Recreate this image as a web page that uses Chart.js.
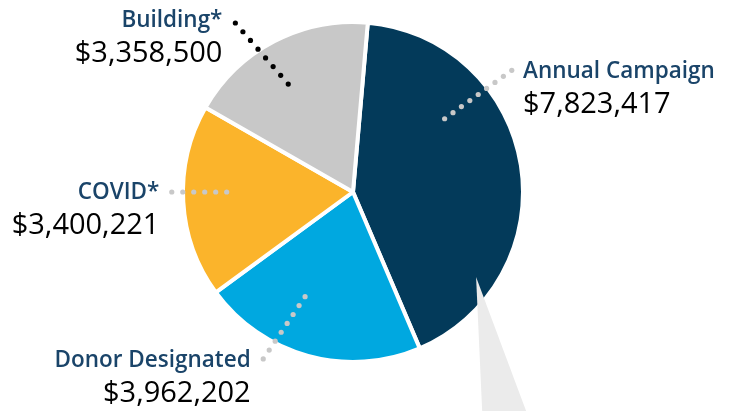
<!DOCTYPE html>
<html>
<head>
<meta charset="utf-8">
<script src="https://cdn.jsdelivr.net/npm/chart.js@4/dist/chart.umd.min.js"></script>
<style>
  html, body { margin: 0; padding: 0; background: #ffffff; }
  #wrap { width: 732px; height: 411px; position: relative; }
</style>
</head>
<body>
<div id="wrap"><canvas id="c" width="732" height="411"></canvas></div>
<script>
// ---- data ----
const categories = ["Annual Campaign", "Donor Designated", "COVID*", "Building*"];
const amounts = [7823417, 3962202, 3400221, 3358500];
const valueLabels = ["$7,823,417", "$3,962,202", "$3,400,221", "$3,358,500"];

// ---- styling / layout (relative to pie centre, in units of radius) ----
const sliceColors = ["#033a5a", "#00a8e0", "#fbb42b", "#c8c8c8"];
const leaderColors = ["#c8c8c8", "#c8c8c8", "#c8c8c8", "#000000"];
const leaderStart = [[0.539, -0.431], [-0.282, 0.616], [-0.743, 0.0], [-0.381, -0.635]];
const leaderEnd = [[0.934, -0.716], [-0.528, 0.982], [-1.066, 0.0], [-0.692, -0.994]];
const leaderDots = [9, 8, 6, 8];
const titleAnchor = [[1.0, -0.672], [-0.602, 1.031], [-1.139, 0.041], [-0.768, -0.972]];
const titleAlign = ["left", "right", "right", "right"];
const wedge = [[0.724, 0.5], [0.765, 1.40], [1.06, 1.40]];

const annotations = {
  id: "annotations",
  afterDatasetsDraw(chart) {
    const ctx = chart.ctx;
    const arc = chart.getDatasetMeta(0).data[0];
    const cx = arc.x, cy = arc.y, r = arc.outerRadius;
    const P = (f) => [cx + f[0] * r, cy + f[1] * r];
    ctx.save();
    // callout wedge
    ctx.fillStyle = "#ebebeb";
    ctx.beginPath();
    wedge.forEach((f, i) => { const p = P(f); i ? ctx.lineTo(p[0], p[1]) : ctx.moveTo(p[0], p[1]); });
    ctx.closePath();
    ctx.fill();
    // leaders + labels
    categories.forEach((name, i) => {
      const a = P(leaderStart[i]), b = P(leaderEnd[i]);
      const n = leaderDots[i];
      ctx.fillStyle = leaderColors[i];
      for (let k = 0; k < n; k++) {
        const t = k / (n - 1);
        ctx.beginPath();
        ctx.arc(a[0] + (b[0] - a[0]) * t, a[1] + (b[1] - a[1]) * t, 2.6, 0, Math.PI * 2);
        ctx.fill();
      }
      const tp = P(titleAnchor[i]);
      ctx.textAlign = titleAlign[i];
      ctx.textBaseline = "alphabetic";
      ctx.fillStyle = "#1a4469";
      ctx.font = "600 22.5px 'Open Sans'";
      ctx.fillText(name, tp[0], tp[1]);
      ctx.fillStyle = "#000000";
      ctx.font = "400 29px 'Open Sans'";
      ctx.fillText(valueLabels[i], tp[0], tp[1] + 35);
    });
    ctx.restore();
  }
};

new Chart(document.getElementById("c"), {
  type: "pie",
  data: {
    labels: categories,
    datasets: [{
      data: amounts,
      backgroundColor: sliceColors,
      borderColor: "#ffffff",
      borderWidth: 4,
      hoverOffset: 0,
      offset: 0
    }]
  },
  options: {
    responsive: false,
    animation: false,
    rotation: 5,
    layout: { padding: { left: 181, right: 207, top: 20, bottom: 47 } },
    plugins: { legend: { display: false }, tooltip: { enabled: false } }
  },
  plugins: [annotations]
});
</script>
</body>
</html>
